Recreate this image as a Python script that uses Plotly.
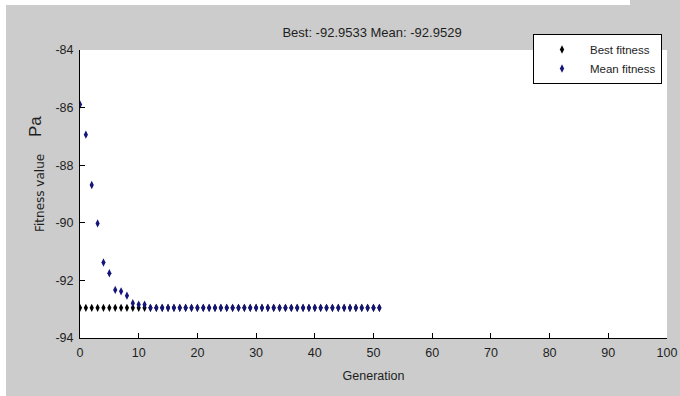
import plotly.graph_objects as go

generations = list(range(0, 52))
best_fitness = [-92.9533] * 52
mean_fitness = [-85.89, -86.94, -88.69, -90.02, -91.38, -91.75, -92.33, -92.38,
                -92.53, -92.79, -92.84, -92.84] + [-92.9529] * 40

title_text = "Best: -92.9533 Mean: -92.9529"
x_ticks = [0, 10, 20, 30, 40, 50, 60, 70, 80, 90, 100]
y_ticks = [-94, -92, -90, -88, -86, -84]

FONT = "Liberation Sans, Arial, sans-serif"
GRAY = "#cccccc"
TXT = "#1e1e1e"

W, H = 680, 396
L, R, T, B = 80, 13, 50, 58
pw, ph = W - L - R, H - T - B

def px(x):
    return (x - L) / pw

def py(y):
    return (H - B - y) / ph

fig = go.Figure()
fig.add_trace(go.Scatter(
    x=generations, y=best_fitness, mode="markers", name="Best fitness",
    marker=dict(symbol="diamond-tall", size=6, color="#000000")))
fig.add_trace(go.Scatter(
    x=generations, y=mean_fitness, mode="markers", name="Mean fitness",
    marker=dict(symbol="diamond-tall", size=6, color="#14147a")))

fig.update_layout(
    width=W + 12, height=H, autosize=False,
    margin=dict(l=L, r=R + 12, t=T, b=B, pad=0),
    paper_bgcolor=GRAY, plot_bgcolor="white",
    font=dict(family=FONT, size=12, color=TXT),
    title=dict(text=title_text, x=px(372), xref="paper", xanchor="center",
               y=1 - 32 / H, yanchor="middle", yref="container",
               font=dict(family=FONT, size=13, color=TXT)),
    showlegend=True,
    legend=dict(x=px(662), y=py(34), xanchor="right", yanchor="top",
                bgcolor="white", bordercolor="#000000", borderwidth=1,
                font=dict(family=FONT, size=11.5, color=TXT),
                itemwidth=46, tracegroupgap=0),
    xaxis=dict(range=[0, 100], tickvals=x_ticks, ticktext=[str(v) for v in x_ticks],
               showgrid=False, zeroline=False, showline=True, linecolor="#000000",
               linewidth=1, ticks="inside", ticklen=5, tickcolor="#000000",
               tickfont=dict(size=12.5), ticklabelstandoff=3,
               title=dict(text="Generation", standoff=12,
                          font=dict(family=FONT, size=12.5, color=TXT)),
               fixedrange=True),
    yaxis=dict(range=[-94, -84], tickvals=y_ticks, ticktext=[str(v) for v in y_ticks],
               showgrid=False, zeroline=False, showline=True, linecolor="#000000",
               linewidth=1, ticks="inside", ticklen=5, tickcolor="#000000",
               tickfont=dict(size=12.5),
               ticklabelstandoff=3, fixedrange=True),
)

# white strips at image edges
fig.add_shape(type="rect", xref="paper", yref="paper", x0=px(0), x1=px(6),
              y0=py(H), y1=py(0), fillcolor="white", line_width=0, layer="below")
fig.add_shape(type="rect", xref="paper", yref="paper", x0=px(0), x1=px(630),
              y0=py(5), y1=py(0), fillcolor="white", line_width=0, layer="below")

# y-axis label
fig.add_annotation(text="Fitness value", xref="paper", yref="paper",
                   x=px(40), y=py(193), xanchor="center", yanchor="middle",
                   textangle=-90, showarrow=False,
                   font=dict(family="DejaVu Sans", size=12, color=TXT))
fig.add_annotation(text="Pa", xref="paper", yref="paper",
                   x=px(35), y=py(127), xanchor="center", yanchor="middle",
                   textangle=-90, showarrow=False,
                   font=dict(family=FONT, size=17, color=TXT))

fig.write_html("out.html", config={"responsive": False})
